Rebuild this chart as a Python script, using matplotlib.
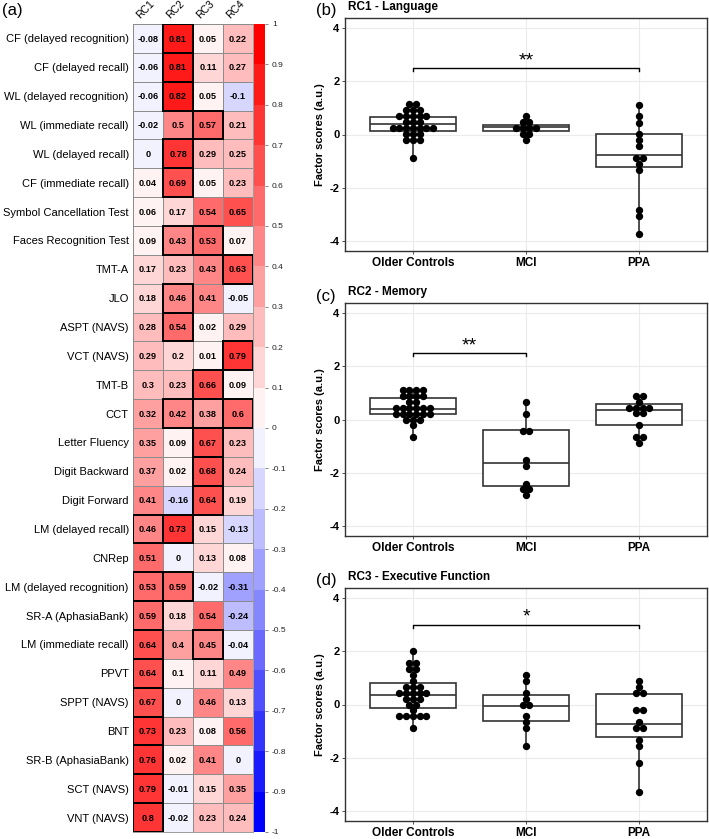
import numpy as np
import matplotlib.pyplot as plt
from matplotlib.colors import LinearSegmentedColormap, ListedColormap, BoundaryNorm
from matplotlib.patches import Rectangle

plt.rcParams['font.family'] = ['Liberation Sans', 'DejaVu Sans']

# ---- loadings (panel a) ----
tests = ["CF (delayed recognition)", "CF (delayed recall)", "WL (delayed recognition)",
         "WL (immediate recall)", "WL (delayed recall)", "CF (immediate recall)",
         "Symbol Cancellation Test", "Faces Recognition Test", "TMT-A", "JLO",
         "ASPT (NAVS)", "VCT (NAVS)", "TMT-B", "CCT", "Letter Fluency",
         "Digit Backward", "Digit Forward", "LM (delayed recall)", "CNRep",
         "LM (delayed recognition)", "SR-A (AphasiaBank)", "LM (immediate recall)",
         "PPVT", "SPPT (NAVS)", "BNT", "SR-B (AphasiaBank)", "SCT (NAVS)", "VNT (NAVS)"]
factors = ["RC1", "RC2", "RC3", "RC4"]
rc1 = [-0.08, -0.06, -0.06, -0.02, 0, 0.04, 0.06, 0.09, 0.17, 0.18, 0.28, 0.29, 0.3, 0.32,
       0.35, 0.37, 0.41, 0.46, 0.51, 0.53, 0.59, 0.64, 0.64, 0.67, 0.73, 0.76, 0.79, 0.8]
rc2 = [0.81, 0.81, 0.82, 0.5, 0.78, 0.69, 0.17, 0.43, 0.23, 0.46, 0.54, 0.2, 0.23, 0.42,
       0.09, 0.02, -0.16, 0.73, 0, 0.59, 0.18, 0.4, 0.1, 0, 0.23, 0.02, -0.01, -0.02]
rc3 = [0.05, 0.11, 0.05, 0.57, 0.29, 0.05, 0.54, 0.53, 0.43, 0.41, 0.02, 0.01, 0.66, 0.38,
       0.67, 0.68, 0.64, 0.15, 0.13, -0.02, 0.54, 0.45, 0.11, 0.46, 0.08, 0.41, 0.15, 0.23]
rc4 = [0.22, 0.27, -0.1, 0.21, 0.25, 0.23, 0.65, 0.07, 0.63, -0.05, 0.29, 0.79, 0.09, 0.6,
       0.23, 0.24, 0.19, -0.13, 0.08, -0.31, -0.24, -0.04, 0.49, 0.13, 0.56, 0, 0.35, 0.24]
# highlighted cells (row, factor)
boxed = [(0, 1), (1, 1), (2, 1), (3, 2), (4, 1), (5, 1), (7, 1), (7, 2), (8, 3), (9, 1),
         (10, 1), (11, 3), (12, 2), (13, 1), (13, 2), (13, 3), (14, 2), (15, 2), (16, 2),
         (17, 0), (17, 1), (19, 0), (19, 1), (20, 0), (21, 0), (21, 2), (22, 0), (23, 0),
         (24, 0), (25, 0), (26, 0), (27, 0)]

# ---- factor scores (panels b-d) ----
groups = ["Older Controls", "MCI", "PPA"]

lang_oc = [1.13] * 2 + [0.91] * 3 + [0.70] * 5 + [0.47] * 3 + [0.24] * 7 + [0.01] * 3 + [-0.21] * 3 + [-0.87]
lang_mci = [0.69, 0.46, 0.46, 0.24, 0.24, 0.24, 0.24, 0.01, 0.01, -0.21]
lang_ppa = [1.11, 0.69, 0.45, 0.01, -0.21, -0.42, -0.87, -0.87, -1.10, -1.32, -2.82, -3.07, -3.73]
lang_q1 = [0.15, 0.12, -1.21]
lang_med = [0.41, 0.29, -0.76]
lang_q3 = [0.67, 0.37, 0.02]

mem_oc = [1.12] * 4 + [0.89] * 4 + [0.67] * 2 + [0.45] * 6 + [0.22] * 6 + [0.0] * 3 + [-0.22, -0.67]
mem_mci = [0.67, 0.22, -0.44, -0.44, -1.52, -1.74, -2.41, -2.61, -2.61, -2.85]
mem_ppa = [0.90, 0.90, 0.67, 0.45, 0.45, 0.45, 0.45, 0.23, 0.23, -0.22, -0.67, -0.67, -0.89]
mem_q1 = [0.20, -2.48, -0.22]
mem_med = [0.41, -1.65, 0.35]
mem_q3 = [0.79, -0.39, 0.58]

exe_oc = [2.0] + [1.54] * 2 + [1.33] * 2 + [1.11, 0.89] + [0.67] * 3 + [0.44] * 5 + [0.22] * 3 + [0.0] * 2 + [-0.22] + [-0.44] * 5 + [-0.89]
exe_mci = [1.11, 0.89, 0.44, 0.22, 0.0, 0.0, -0.44, -0.67, -0.89, -1.56]
exe_ppa = [0.89, 0.67, 0.44, 0.44, -0.22, -0.22, -0.67, -0.89, -0.89, -1.33, -1.56, -2.21, -3.30]
exe_q1 = [-0.15, -0.63, -1.22]
exe_med = [0.35, -0.07, -0.75]
exe_q3 = [0.81, 0.37, 0.38]

W, H = 709, 839
fig = plt.figure(figsize=(W / 100, H / 100), dpi=100)


def px_axes(x0, y0, x1, y1):
    return fig.add_axes([x0 / W, 1 - y1 / H, (x1 - x0) / W, (y1 - y0) / H])


# ---------------- heatmap ----------------
loadings = np.column_stack([rc1, rc2, rc3, rc4])
base = LinearSegmentedColormap.from_list("bwr3", ["blue", "white", "red"])
cmap = ListedColormap(base(np.linspace(0, 1, 20)))
# bins closed on the right, so an exact 0 falls in the light-blue bin
bounds = np.linspace(-1, 1, 21) + 1e-6
bounds[0], bounds[-1] = -1, 1
norm = BoundaryNorm(bounds, cmap.N)

ax = px_axes(133, 24, 253, 832)
mesh = ax.pcolormesh(loadings, cmap=cmap, norm=norm, edgecolors="#8c8c8c", linewidth=0.6)
ax.set_xlim(0, 4)
ax.set_ylim(len(tests), 0)
for i in range(len(tests)):
    for j in range(4):
        v = loadings[i, j]
        ax.text(j + 0.5, i + 0.52, f"{v:g}", ha="center", va="center",
                fontsize=6.6, fontweight="bold", color="black")
for (i, j) in boxed:
    ax.add_patch(Rectangle((j, i), 1, 1, fill=False, edgecolor="black", lw=1.4, zorder=5))
ax.set_yticks(np.arange(len(tests)) + 0.5)
ax.set_yticklabels(tests, fontsize=8)
ax.set_xticks([])
ax.tick_params(axis="y", length=0, pad=3)
for j, f in enumerate(factors):
    ax.text(j + 0.3, -0.12, f, rotation=45, rotation_mode="anchor", ha="left", va="bottom",
            fontsize=7.5)
for s in ax.spines.values():
    s.set_color("#8c8c8c")
    s.set_linewidth(0.6)

cax = px_axes(254, 24, 265, 832)
cb = fig.colorbar(mesh, cax=cax, ticks=bounds)
cb.outline.set_visible(False)
cb.set_ticklabels([f"{t:g}" for t in np.round(np.linspace(-1, 1, 21), 1)])
cax.tick_params(labelsize=6, length=2, width=0.5, color="#555555", pad=3,
                labelcolor="#222222")

fig.text(2 / W, 1 - 11 / H, "(a)", fontsize=12, va="center", ha="left")

# ---------------- box plots ----------------
panels = [
    ("(b)", "RC1 - Language", (lang_oc, lang_mci, lang_ppa), lang_q1, lang_med, lang_q3,
     (1, 3), 2.5, "**", (18, 251), 7),
    ("(c)", "RC2 - Memory", (mem_oc, mem_mci, mem_ppa), mem_q1, mem_med, mem_q3,
     (1, 2), 2.5, "**", (303, 536), 292),
    ("(d)", "RC3 - Executive Function", (exe_oc, exe_mci, exe_ppa), exe_q1, exe_med, exe_q3,
     (1, 3), 3.0, "*", (588, 821), 577),
]


def swarm_x(vals, center, dx=0.06):
    vals = np.asarray(vals)
    xs = np.empty(len(vals))
    for v in np.unique(vals):
        idx = np.where(vals == v)[0]
        n = len(idx)
        xs[idx] = center + (np.arange(n) - (n - 1) / 2) * dx
    return xs


for lab, title, data, q1, med, q3, (ga, gb), ybr, star, (ytop, ybot), ytitle in panels:
    bx = px_axes(345, ytop, 707, ybot)
    bx.set_xlim(0.4, 3.6)
    bx.set_ylim(-4.37, 4.37)
    bx.set_axisbelow(True)
    bx.grid(True, color="#ebebeb", lw=0.8)
    stats = []
    for k in range(3):
        stats.append(dict(q1=q1[k], med=med[k], q3=q3[k],
                          whislo=min(data[k]), whishi=max(data[k]), fliers=[]))
    lp = dict(color="#333333", lw=1.2)
    bx.bxp(stats, positions=[1, 2, 3], widths=0.76, patch_artist=True, showcaps=False,
           boxprops=dict(facecolor="white", edgecolor="#333333", lw=1.2),
           medianprops=lp, whiskerprops=lp, zorder=2)
    for k in range(3):
        bx.scatter(swarm_x(data[k], k + 1), data[k], s=28, color="black", zorder=3,
                   linewidths=0)
    tick_h = 0.12
    bx.plot([ga, ga, gb, gb], [ybr - tick_h, ybr, ybr, ybr - tick_h], color="black", lw=1.0)
    bx.text((ga + gb) / 2, ybr - 0.05, star, ha="center", va="bottom", fontsize=14)
    bx.set_xticks([1, 2, 3])
    bx.set_xticklabels(groups, fontsize=8.5, fontweight="bold", color="black")
    bx.set_yticks([-4, -2, 0, 2, 4])
    bx.set_yticklabels(["-4", "-2", "0", "2", "4"], fontsize=8, fontweight="bold")
    bx.tick_params(length=2.5, width=0.6, color="#333333", pad=1.5)
    bx.set_ylabel("Factor scores (a.u.)", fontsize=8, fontweight="bold", labelpad=3)
    for s in bx.spines.values():
        s.set_color("#333333")
        s.set_linewidth(1.0)
    fig.text(348 / W, 1 - ytitle / H, title, fontsize=8.5, fontweight="bold",
             va="center", ha="left")
    fig.text(316 / W, 1 - (ytitle + 4) / H, lab, fontsize=12, va="center", ha="left")

fig.savefig("out.png", dpi=100)
